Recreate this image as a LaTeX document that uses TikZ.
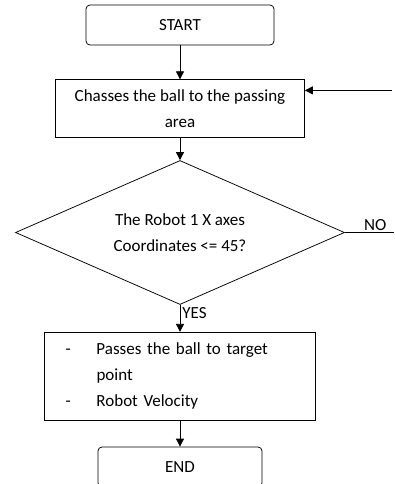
\documentclass[tikz,border=0pt]{standalone}
\usepackage{fontspec}
\setmainfont{Carlito}
\usetikzlibrary{shapes,arrows,positioning,arrows.meta,calc}

\begin{document}
\begin{tikzpicture}[
        x=1pt, y=1pt,
        node distance=34pt,
        every node/.style={font=\fontsize{17}{26}\selectfont},
        terminal/.style={rectangle, rounded corners=4pt, draw, align=center, minimum width=188pt, minimum height=40pt},
        process/.style={rectangle, draw, align=center, minimum width=249pt, minimum height=58pt},
        decision/.style={diamond, draw, align=center, aspect=2.3, inner sep=0pt, minimum width=329pt, minimum height=144pt},
        listbox/.style={rectangle, draw, align=left, text width=229pt, inner xsep=21pt, minimum height=88pt},
        line/.style={-{Triangle[width=8pt,length=8pt]}},
        line width=0.75pt
    ]
        \useasboundingbox (0,0) rectangle (394,-484);
        \node[terminal] (start) at (180,-25) {START};
        \node[process, below=34pt of start] (chase) {Chasses the ball to the passing\\area};
        \node[decision, below=22pt of chase] (check) {The Robot 1 X axes\\Coordinates <= 45?};
        \node[listbox, below=27pt of check] (pass) {\makebox[31pt][l]{-}Passes the ball to target\\\hspace*{31pt}point\\\makebox[31pt][l]{-}Robot Velocity};
        \node[terminal, minimum width=164pt, below=26pt of pass] (stop) {END};
        \coordinate (back) at ($(chase.north east)+(87,-11)$);
        \coordinate (noend) at ($(check.east)+(49,0)$);
        \draw[line] (start) -- (chase);
        \draw[line] (back) -- (back -| chase.east);
        \draw[line] (chase) -- (check);
        \draw (check.east) -- (noend) node[pos=0.62, above, inner sep=2pt] {NO};
        \draw[line] (check) -- node[pos=0.3, right, inner sep=2pt] {YES} (pass);
        \draw[line] (pass) -- (stop);
    \end{tikzpicture}
\end{document}
